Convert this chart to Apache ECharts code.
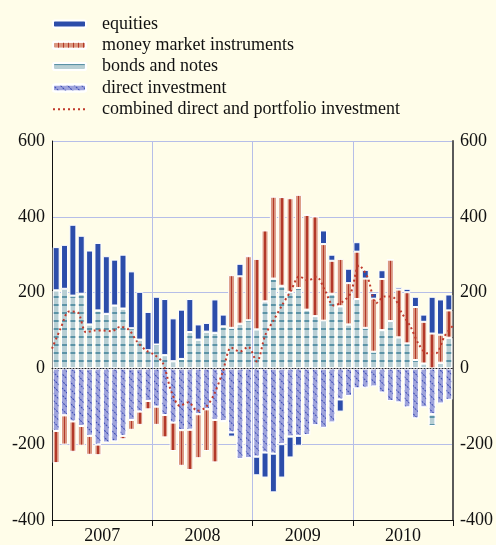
<!DOCTYPE html>
<html>
<head>
<meta charset="utf-8">
<script src="https://cdn.jsdelivr.net/npm/echarts@6/dist/echarts.min.js"></script>
<style>
html,body{margin:0;padding:0;background:#fffde9;}
#chart{width:496px;height:545px;}
</style>
</head>
<body>
<div id="chart"></div>
<script>
// monthly flows, 2007-2010
var years = ['2007', '2008', '2009', '2010'];
var monthNames = ['Jan','Feb','Mar','Apr','May','Jun','Jul','Aug','Sep','Oct','Nov','Dec'];

var equities = [114,116,187,153,195,178,152,121,142,150,126,101,
                126,148,113,130,87,40,23,88,31,-11,33,3,
                -49,-66,-102,-88,-55,-26,0,0,36,16,-32,38,
                25,23,15,23,0,6,9,27,19,97,93,42];
var moneyMarket = [-85,-77,-80,-52,-50,-28,0,0,-9,-26,-35,-22,
                   -48,-59,-75,-94,-106,-116,-110,-112,-3,139,125,169,
                   186,187,216,234,247,246,250,263,202,87,125,109,
                   125,130,140,135,162,126,135,140,110,92,74,72];
var bonds = [206,210,192,197,116,153,144,166,158,106,76,48,
             63,35,19,25,96,76,97,94,111,107,118,127,
             103,177,237,218,202,212,155,138,126,197,164,116,
             183,107,44,101,125,82,66,22,13,-31,15,81];
var direct = [-165,-124,-140,-152,-178,-201,-196,-193,-178,-136,-114,-86,
              -101,-123,-143,-163,-162,-121,-108,-136,-139,-169,-239,-237,
              -233,-222,-225,-200,-180,-178,-176,-150,-157,-143,-82,-73,
              -53,-51,-48,-64,-86,-90,-103,-132,-103,-121,-93,-83];
var combined = [52,105,150,148,95,100,100,98,110,102,70,48,
                36,14,-62,-99,-89,-112,-103,-68,-10,55,44,57,
                18,88,128,168,205,243,232,242,205,166,175,198,
                272,240,172,190,188,146,111,63,40,40,85,113];

var yTicks = {min: -400, max: 600, step: 200};

var months = [];
years.forEach(function (y) {
  monthNames.forEach(function (m) { months.push(m + ' ' + y); });
});

var FONT = 'Liberation Serif';
var GRID = '#b6bee8';
var SALMON = '#da9781', RUST = '#b3382a';

var chart = echarts.init(document.getElementById('chart'), null, {renderer: 'canvas'});

var barBase = {type: 'bar', stack: 'flows', barWidth: 7, xAxisIndex: 0, yAxisIndex: 0};

var option = {
  animation: false,
  backgroundColor: '#fffde9',
  textStyle: {fontFamily: FONT},
  legend: {
    orient: 'vertical',
    left: 52,
    top: 15,
    padding: 0,
    itemWidth: 33,
    itemHeight: 7,
    itemGap: 3.3,
    selectedMode: false,
    textStyle: {fontFamily: FONT, fontSize: 18, color: '#111', padding: [0, 0, 0, 11]},
    data: [
      'equities',
      {name: 'money market instruments',
       itemStyle: {color: SALMON,
                   decal: {symbol: 'rect', symbolSize: 1, color: RUST,
                           dashArrayX: [1, 3.5], dashArrayY: [1, 0], rotation: 0}}},
      'bonds and notes',
      'direct investment',
      {name: 'combined direct and portfolio investment', itemStyle: {opacity: 0}}
    ]
  },
  grid: {left: 52, right: 41, top: 141, bottom: 24},
  xAxis: [
    {type: 'category', data: months, show: false, axisLine: {onZero: false}},
    {
      type: 'category', data: years, position: 'bottom', boundaryGap: true,
      axisLine: {onZero: false, lineStyle: {color: '#111', width: 1}},
      axisTick: {show: true, length: 6, lineStyle: {color: '#111'}},
      axisLabel: {fontFamily: FONT, fontSize: 18, color: '#111', margin: 7},
      splitLine: {show: true, lineStyle: {color: GRID, width: 1}}
    },
    {
      type: 'category', data: months, position: 'bottom', z: 5,
      axisLine: {onZero: true, lineStyle: {color: '#222', width: 1, type: [1, 2]}},
      axisTick: {show: false}, axisLabel: {show: false}, splitLine: {show: false}
    },
    {type: 'category', data: months, boundaryGap: false, show: false, axisLine: {onZero: false}}
  ],
  yAxis: [
    {
      type: 'value', position: 'left', min: yTicks.min, max: yTicks.max, interval: yTicks.step,
      axisLine: {show: true, lineStyle: {color: '#111', width: 1}},
      axisTick: {show: false},
      axisLabel: {fontFamily: FONT, fontSize: 18, color: '#111', margin: 7},
      splitLine: {show: true, lineStyle: {color: GRID, width: 1}}
    },
    {
      type: 'value', position: 'right', min: yTicks.min, max: yTicks.max, interval: yTicks.step,
      axisLine: {show: true, lineStyle: {color: '#5a5a5a', width: 2}},
      axisTick: {show: false},
      axisLabel: {fontFamily: FONT, fontSize: 18, color: '#111', margin: 7},
      splitLine: {show: false}
    }
  ],
  series: [
    Object.assign({}, barBase, {
      name: 'direct investment',
      data: direct,
      itemStyle: {
        color: '#9ea3dc', borderColor: '#ffffff', borderWidth: 1,
        decal: {symbol: 'rect', symbolSize: 1, color: '#3d4db3',
                dashArrayX: [2, 1], dashArrayY: [1, 4], rotation: Math.PI / 4}
      }
    }),
    Object.assign({}, barBase, {
      name: 'bonds and notes',
      data: bonds,
      itemStyle: {
        color: '#b8cfd4', borderColor: '#ffffff', borderWidth: 1,
        decal: {symbol: 'rect', symbolSize: 1, color: '#5b93a6',
                dashArrayX: [1, 0], dashArrayY: [1.5, 5.5], rotation: 0}
      }
    }),
    Object.assign({}, barBase, {
      name: 'money market instruments',
      data: moneyMarket,
      itemStyle: {
        borderColor: '#ffffff', borderWidth: 1,
        color: new echarts.graphic.LinearGradient(0, 0, 1, 0, [
          {offset: 0, color: SALMON}, {offset: 0.4, color: SALMON},
          {offset: 0.4, color: RUST}, {offset: 0.62, color: RUST},
          {offset: 0.62, color: SALMON}, {offset: 1, color: SALMON}
        ])
      }
    }),
    Object.assign({}, barBase, {
      name: 'equities',
      data: equities,
      itemStyle: {color: '#2c4daa', borderColor: '#ffffff', borderWidth: 1}
    }),
    {
      name: 'combined direct and portfolio investment',
      type: 'line',
      xAxisIndex: 3,
      yAxisIndex: 0,
      data: combined,
      symbol: 'none',
      smooth: 0.3,
      z: 4,
      lineStyle: {color: '#c0392b', width: 2, type: [2, 3]},
      itemStyle: {color: '#c0392b'}
    }
  ]
};

chart.setOption(option);
</script>
</body>
</html>
